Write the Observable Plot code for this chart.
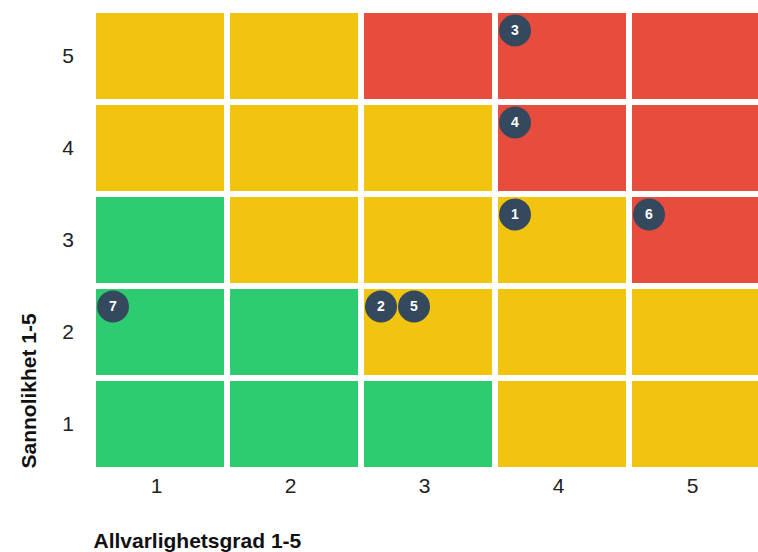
<!DOCTYPE html>
<html>
<head>
<meta charset="utf-8">
<script src="https://cdn.jsdelivr.net/npm/d3@7"></script>
<script src="https://cdn.jsdelivr.net/npm/@observablehq/plot@0.6"></script>
<style>
  html, body { margin: 0; padding: 0; background: #fff; }
  svg { display: block; }
</style>
</head>
<body>
<div id="chart"></div>
<script>
// Axes
const severityLevels = [1, 2, 3, 4, 5];      // Allvarlighetsgrad
const likelihoodLevels = [5, 4, 3, 2, 1];    // Sannolikhet (top to bottom)

// Risk level per cell: rows by likelihood 1..5, columns by severity 1..5
const levelRow1 = ["low", "low", "low", "medium", "medium"];
const levelRow2 = ["low", "low", "medium", "medium", "medium"];
const levelRow3 = ["low", "medium", "medium", "medium", "high"];
const levelRow4 = ["medium", "medium", "medium", "high", "high"];
const levelRow5 = ["medium", "medium", "high", "high", "high"];
const levelRows = [levelRow1, levelRow2, levelRow3, levelRow4, levelRow5];

const levelNames = ["low", "medium", "high"];
const levelColors = ["#2ecc71", "#f1c40f", "#e74c3c"];

// Risks
const riskIds = [1, 2, 3, 4, 5, 6, 7];
const riskSeverity = [4, 3, 4, 4, 3, 5, 1];
const riskLikelihood = [3, 2, 5, 4, 2, 3, 2];

// Build tables
const cells = [];
levelRows.forEach((row, i) => {
  row.forEach((lvl, j) => {
    cells.push({likelihood: i + 1, severity: j + 1, level: lvl});
  });
});

const counts = {};
const risks = riskIds.map((id, i) => {
  const key = riskSeverity[i] + "-" + riskLikelihood[i];
  const slot = counts[key] || 0;
  counts[key] = slot + 1;
  return {id, severity: riskSeverity[i], likelihood: riskLikelihood[i], slot};
});

const font = "'Liberation Sans', Arial, Helvetica, sans-serif";
const slotDx = [-47.5, -14.5];

const marks = [
  Plot.cell(cells, {x: "severity", y: "likelihood", fill: "level", inset: 3})
];
slotDx.forEach((dx, s) => {
  const sub = risks.filter(d => d.slot === s);
  marks.push(Plot.dot(sub, {x: "severity", y: "likelihood", r: 16, fill: "#34495e", dx, dy: -26}));
  marks.push(Plot.text(sub, {x: "severity", y: "likelihood", text: d => String(d.id), fill: "white",
    fontWeight: "bold", fontSize: 14, dx, dy: -26}));
});
marks.push(
  Plot.axisX({tickSize: 0, tickPadding: 7, dx: -4, fontSize: 21, label: null, fill: "#222"}),
  Plot.axisY({tickSize: 0, tickPadding: 25.5, textAnchor: "middle", fontSize: 21, label: null, fill: "#222"}),
  Plot.text(["Allvarlighetsgrad 1-5"], {frameAnchor: "bottom-left", textAnchor: "start", lineAnchor: "bottom",
    dx: 0, dy: 76, fontWeight: "bold", fontSize: 21, fill: "#111"}),
  Plot.text(["Sannolikhet 1-5"], {frameAnchor: "bottom-left", textAnchor: "start", lineAnchor: "bottom",
    rotate: -90, dx: -58, dy: -3, fontWeight: "bold", fontSize: 21, fill: "#111"})
);

const chart = Plot.plot({
  width: 758,
  height: 552,
  marginLeft: 93,
  marginRight: 0,
  marginTop: 8,
  marginBottom: 81,
  style: {fontFamily: font, background: "#fff", overflow: "hidden"},
  x: {type: "band", domain: severityLevels, range: [93, 763], padding: 0},
  y: {type: "band", domain: likelihoodLevels, range: [8, 471], padding: 0},
  color: {domain: levelNames, range: levelColors},
  marks
});
document.getElementById("chart").appendChild(chart);
</script>
</body>
</html>
